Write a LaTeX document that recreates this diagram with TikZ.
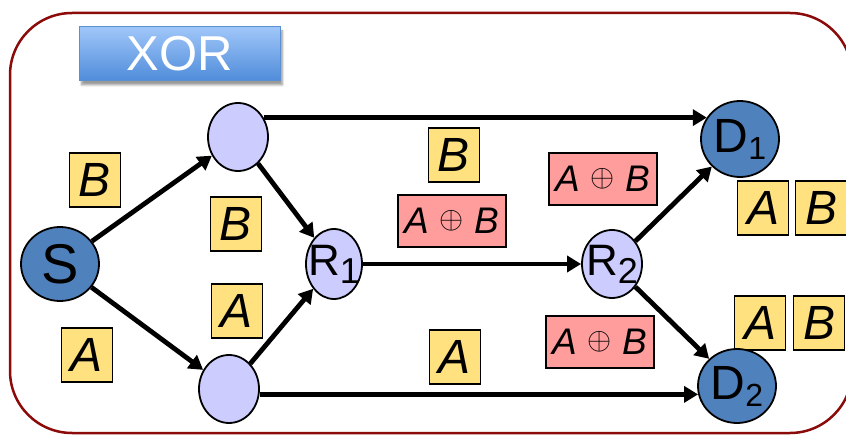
\documentclass[tikz,border=0pt]{standalone}
\usepackage{fontspec}
\setmainfont{Liberation Sans}
\usetikzlibrary{shapes.geometric,arrows.meta,shadows.blur}
\definecolor{framered}{HTML}{8B0A0A}
\definecolor{nodeblue}{HTML}{4F81BD}
\definecolor{relayfill}{HTML}{CCCCFF}
\definecolor{lblyellow}{HTML}{FFE17F}
\definecolor{lblpink}{HTML}{FF9C9C}
\definecolor{xortop}{HTML}{A0C6F9}
\definecolor{xorbot}{HTML}{4F8CDA}
\definecolor{xorborder}{HTML}{5B8FCF}
\newcommand{\mysub}[1]{\raisebox{-7pt}{\fontsize{32}{34}\selectfont #1}}
\newcommand{\rsub}[1]{\raisebox{-8pt}{\fontsize{36}{38}\selectfont #1}}
\newcommand{\zw}[1]{\makebox[0pt]{#1}}
\newcommand{\xorsym}{\raisebox{5pt}{\scalebox{3.1}{\fontsize{10}{12}\selectfont$\oplus$}}}
\begin{document}
\begin{tikzpicture}[x=1pt,y=-1pt,
 endpt/.style={ellipse,draw,line width=1.8pt,fill=nodeblue,inner sep=0pt,font=\fontsize{48}{50}\selectfont},
 relaynode/.style={ellipse,draw,line width=1.8pt,fill=relayfill,inner sep=0pt,font=\fontsize{44}{46}\selectfont},
 ybox/.style={draw,line width=1.5pt,fill=lblyellow,inner sep=0pt,minimum width=51pt,minimum height=54pt,font=\fontsize{48}{50}\selectfont\itshape},
 pbox/.style={draw,line width=1.5pt,fill=lblpink,inner sep=0pt,minimum width=108pt,minimum height=52pt,font=\fontsize{37}{39}\selectfont\itshape},
 arr/.style={line width=4.8pt,-{Triangle[length=14pt,width=16pt]}},
 xorbox/.style={draw=xorborder,line width=1pt,top color=xortop,bottom color=xorbot,minimum width=201pt,minimum height=54pt,inner sep=0pt,text=white,font=\fontsize{49}{51}\selectfont,blur shadow={shadow xshift=2pt,shadow yshift=-4pt,shadow blur steps=6,shadow opacity=40}},
]
\useasboundingbox (0,0) rectangle (846,435);
\clip (0,0) rectangle (846,435);
\draw[framered,line width=2.5pt,rounded corners=62pt] (10,13) rectangle (852,433);

\node[xorbox] (xor) at (180,54) {XOR};

% label boxes
\node[ybox] (lb1) at (95,180) {B};
\node[ybox] (la1) at (87,355) {A};
\node[ybox] (lb2) at (236,224) {B};
\node[ybox] (la2) at (237,311) {A};
\node[ybox] (lb3) at (454,155) {B};
\node[pbox] (px1) at (452,221) {A \xorsym{} B};
\node[ybox] (la3) at (455,357) {A};
\node[pbox] (px2) at (603,179) {A \xorsym{} B};
\node[pbox] (px3) at (600,342) {A \xorsym{} B};
\node[ybox] (la4) at (763,208) {A};
\node[ybox] (lb4) at (821,208) {B};
\node[ybox] (la5) at (760,323) {A};
\node[ybox] (lb5) at (819,323) {B};

% network nodes
\node[endpt,minimum width=78pt,minimum height=74pt,font=\fontsize{56}{58}\selectfont] (S) at (60,264) {S};
\node[relaynode,minimum width=60pt,minimum height=68pt] (top) at (238,137) {};
\node[relaynode,minimum width=60pt,minimum height=68pt] (bot) at (229,389) {};
\node[relaynode,minimum width=56pt,minimum height=70pt] (R1) at (334,264) {\zw{R\rsub{1}}};
\node[relaynode,minimum width=60pt,minimum height=68pt] (R2) at (612,264) {\zw{R\rsub{2}}};
\node[endpt,minimum width=78pt,minimum height=76pt] (D1) at (740,139) {\zw{D\mysub{1}}};
\node[endpt,minimum width=78pt,minimum height=74pt] (D2) at (737,386) {\zw{D\mysub{2}}};

% connectors
\draw[arr] (S) -- (top);
\draw[arr] (S) -- (bot);
\draw[arr] (top) -- (R1);
\draw[arr] (bot) -- (R1);
\draw[arr] (R1) -- (R2);
\draw[arr] (R2) -- (D1);
\draw[arr] (R2) -- (D2);
\draw[arr] (top.37) -- (top.37 -| D1.147);
\draw[arr] (bot.-10) -- (bot.-10 -| D2.192);
\end{tikzpicture}
\end{document}
